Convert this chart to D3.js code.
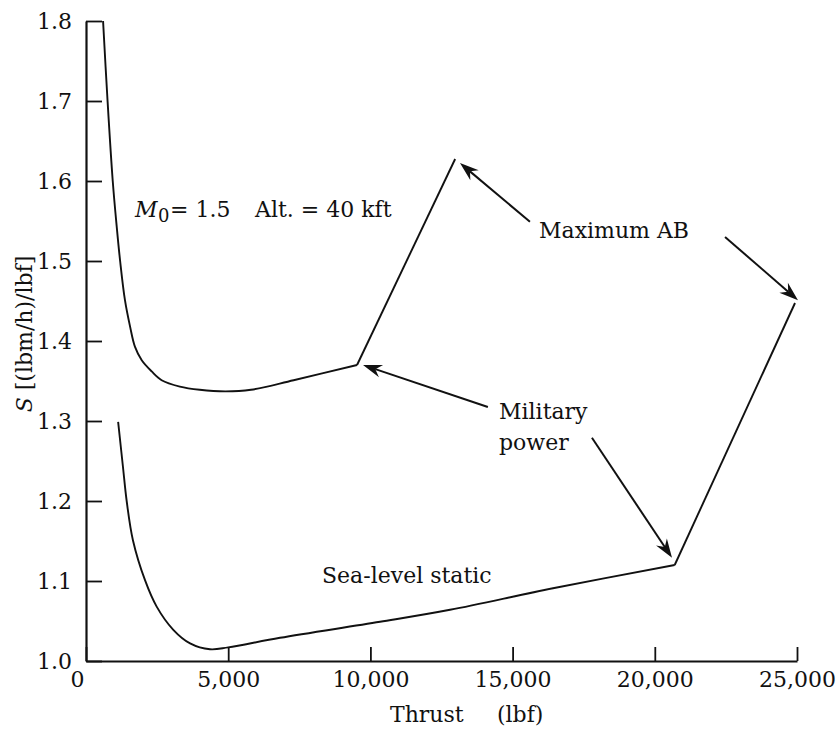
<!DOCTYPE html>
<html>
<head>
<meta charset="utf-8">
<script src="https://cdn.jsdelivr.net/npm/d3@7"></script>
<style>
  body { margin: 0; background: #fff; }
  svg { display: block; background: #fff; }
  text { font-family: "DejaVu Serif", "Liberation Serif", serif; fill: #111; }
</style>
</head>
<body>
<svg id="chart" width="836" height="731"></svg>
<script>
// Axis ticks
const xTicks = [0, 5000, 10000, 15000, 20000, 25000];
const yTicks = [1.0, 1.1, 1.2, 1.3, 1.4, 1.5, 1.6, 1.7, 1.8];

// M0 = 1.5, 40 kft: part-power throttle line up to military power
const altThrust = [600, 750, 940, 1080, 1200, 1370, 1550, 1720, 1960, 2310, 2660, 3300, 4000, 4900, 5800, 7300, 9530];
const altS      = [1.80, 1.705, 1.60, 1.543, 1.50, 1.451, 1.418, 1.393, 1.376, 1.362, 1.351, 1.343, 1.339, 1.337, 1.339, 1.351, 1.37];
// M0 = 1.5, 40 kft: afterburner range, military power to maximum AB
const altABThrust = [9530, 12980];
const altABS      = [1.37, 1.6275];

// Sea-level static: part-power throttle line up to military power
const slsThrust = [1130, 1300, 1430, 1650, 2075, 2485, 3070, 3660, 4360, 5000, 6820, 10340, 12800, 16420, 20700];
const slsS      = [1.299, 1.2425, 1.20, 1.151, 1.101, 1.068, 1.039, 1.022, 1.0146, 1.017, 1.029, 1.049, 1.064, 1.091, 1.12];
// Sea-level static: afterburner range
const slsABThrust = [20700, 24930];
const slsABS      = [1.12, 1.4475];

// Callout arrows (tail -> head), in thrust / S units
const arrowFromT = [15610, 22470, 14130, 17790];
const arrowFromS = [1.549, 1.530, 1.3175, 1.279];
const arrowToT   = [13150, 25035, 9740, 20605];
const arrowToS   = [1.6225, 1.451, 1.370, 1.129];

const svg = d3.select("#chart");
const FONT = '"DejaVu Serif", "Liberation Serif", serif';

const x = d3.scaleLinear().domain([0, 25000]).range([86, 797]);
const y = d3.scaleLinear().domain([1.0, 1.8]).range([661, 21]);

// Axes with inward ticks
const xAxis = svg.append("g")
  .attr("transform", `translate(0,${y(1.0)})`)
  .call(d3.axisBottom(x).tickValues(xTicks).tickFormat(d3.format(","))
    .tickSizeInner(-14).tickSizeOuter(0).tickPadding(10));
const yAxis = svg.append("g")
  .attr("transform", `translate(${x(0)},0)`)
  .call(d3.axisLeft(y).tickValues(yTicks).tickFormat(d3.format(".1f"))
    .tickSizeInner(-16).tickSizeOuter(0).tickPadding(14));

[xAxis, yAxis].forEach(g => {
  g.attr("font-family", FONT).attr("font-size", 22);
  g.select(".domain").attr("stroke", "#111").attr("stroke-width", 2.2);
  g.selectAll(".tick line").attr("stroke", "#111").attr("stroke-width", 1.8);
  g.selectAll(".tick text").attr("fill", "#111");
});
xAxis.selectAll(".tick text").filter(d => d === 0).attr("dx", -9);

// Curves
const smooth = d3.line().x(d => x(d[0])).y(d => y(d[1])).curve(d3.curveCatmullRom.alpha(0.5));
const straight = d3.line().x(d => x(d[0])).y(d => y(d[1]));
const zip = (a, b) => a.map((v, i) => [v, b[i]]);

const curves = svg.append("g").attr("fill", "none").attr("stroke", "#111")
  .attr("stroke-width", 1.9).attr("stroke-linejoin", "round");
curves.append("path").attr("d", smooth(zip(altThrust, altS)));
curves.append("path").attr("d", straight(zip(altABThrust, altABS)));
curves.append("path").attr("d", smooth(zip(slsThrust, slsS)));
curves.append("path").attr("d", straight(zip(slsABThrust, slsABS)));

// Arrows
const arrows = svg.append("g");
arrowFromT.forEach((t, i) => {
  const x1 = x(t), y1 = y(arrowFromS[i]);
  const x2 = x(arrowToT[i]), y2 = y(arrowToS[i]);
  const a = Math.atan2(y2 - y1, x2 - x1);
  const ux = Math.cos(a), uy = Math.sin(a);
  const px = -uy, py = ux;
  const L = 19, W = 6.5, N = 13;
  arrows.append("line")
    .attr("x1", x1).attr("y1", y1)
    .attr("x2", x2 - N * ux).attr("y2", y2 - N * uy)
    .attr("stroke", "#111").attr("stroke-width", 2);
  const pts = [
    [x2, y2],
    [x2 - L * ux + W * px, y2 - L * uy + W * py],
    [x2 - N * ux, y2 - N * uy],
    [x2 - L * ux - W * px, y2 - L * uy - W * py]
  ];
  arrows.append("path").attr("d", "M" + pts.join("L") + "Z").attr("fill", "#111");
});

// Annotations
const ann = svg.append("g").attr("font-size", 22);
const cond = ann.append("text").attr("y", 217);
cond.append("tspan").attr("x", 135).attr("font-style", "italic").text("M");
cond.append("tspan").attr("x", 158).attr("dy", 5).attr("font-size", 18).text("0");
cond.append("tspan").attr("x", 170).attr("dy", -5).text("= 1.5");
cond.append("tspan").attr("x", 255).text("Alt. = 40 kft");

ann.append("text").attr("x", 539).attr("y", 238).text("Maximum AB");
ann.append("text").attr("x", 499).attr("y", 419).text("Military");
ann.append("text").attr("x", 499).attr("y", 450).text("power");
ann.append("text").attr("x", 322).attr("y", 583).text("Sea-level static");

// Axis titles
const xt = svg.append("text").attr("y", 722).attr("font-size", 22);
xt.append("tspan").attr("x", 390).text("Thrust");
xt.append("tspan").attr("x", 497).text("(lbf)");

const yt = svg.append("text")
  .attr("transform", "translate(32,334) rotate(-90)")
  .attr("text-anchor", "middle").attr("font-size", 22);
yt.append("tspan").attr("font-style", "italic").text("S");
yt.append("tspan").text(" [(lbm/h)/lbf]");
</script>
</body>
</html>
